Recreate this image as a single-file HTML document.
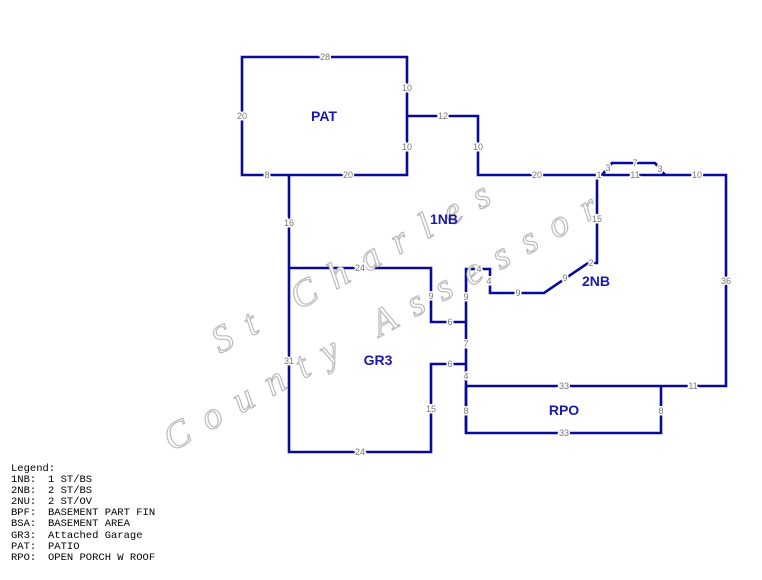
<!DOCTYPE html>
<html><head><meta charset="utf-8"><style>
html,body{margin:0;padding:0;background:#fff;}
svg{display:block}
.l{stroke:#0a0a9a;stroke-width:2.6;fill:none}
.d{font-family:"Liberation Sans",sans-serif;font-size:9px;fill:#777;text-anchor:middle;dominant-baseline:central;stroke:#fff;stroke-width:3;paint-order:stroke}
.n{font-family:"Liberation Sans",sans-serif;font-size:14px;font-weight:bold;fill:#1a1aa8;text-anchor:middle;dominant-baseline:central}
.w{font-family:"Liberation Serif",serif;font-style:italic;font-size:38px;fill:#fff;stroke:#bbb;stroke-width:1.2;letter-spacing:17px}
.g{font-family:"Liberation Mono",monospace;font-size:10.5px;fill:#000}
</style></head><body>
<svg width="762" height="580" viewBox="0 0 762 580" xmlns="http://www.w3.org/2000/svg">
<g class="l">
<path d="M242 57H407V175H242Z"/>
<path d="M407 116H478V175H726V386H466"/>
<path d="M602 175L612 163H655L665 175"/>
<path d="M466 386V433H661V386"/>
<path d="M597 175V263H588L544 293H490V269H466V433"/>
<path d="M289 175V452H431V364H466"/>
<path d="M289 268H431V322H466"/>
</g>
<g>
<text class="w" transform="translate(220,354) rotate(-29)">St Charles</text>
<text class="w" transform="translate(172,452) rotate(-29)">County Assessor</text>
</g>
<g class="d">
<text x="325" y="57">28</text><text x="242" y="116">20</text><text x="407" y="88">10</text><text x="407" y="147">10</text>
<text x="267" y="175">8</text><text x="348" y="175">20</text><text x="443" y="116">12</text><text x="478" y="147">10</text>
<text x="537" y="175">20</text><text x="599" y="175">1</text><text x="608" y="168">3</text><text x="635" y="163">7</text><text x="660" y="169">3</text><text x="635" y="175">11</text><text x="697" y="175">10</text>
<text x="726" y="281">36</text><text x="597" y="219">15</text><text x="591" y="263">2</text><text x="565" y="278">9</text><text x="518" y="293">9</text><text x="489" y="281">4</text><text x="479" y="269">4</text>
<text x="289" y="223">16</text><text x="289" y="361">31</text><text x="360" y="268">24</text><text x="431" y="296">9</text><text x="450" y="322">6</text><text x="450" y="364">6</text><text x="431" y="409">15</text><text x="360" y="452">24</text>
<text x="466" y="297">9</text><text x="466" y="344">7</text><text x="466" y="376">4</text><text x="466" y="411">8</text>
<text x="564" y="386">33</text><text x="693" y="386">11</text><text x="661" y="411">8</text><text x="564" y="433">33</text>
</g>
<g class="n">
<text x="324" y="116">PAT</text><text x="444" y="219">1NB</text><text x="596" y="281">2NB</text><text x="378" y="360">GR3</text><text x="564" y="410">RPO</text>
</g>
<g class="g">
<text x="11" y="471">Legend:</text>
<text x="11" y="482">1NB:</text><text x="48" y="482">1 ST/BS</text>
<text x="11" y="493">2NB:</text><text x="48" y="493">2 ST/BS</text>
<text x="11" y="504">2NU:</text><text x="48" y="504">2 ST/OV</text>
<text x="11" y="515">BPF:</text><text x="48" y="515">BASEMENT PART FIN</text>
<text x="11" y="526">BSA:</text><text x="48" y="526">BASEMENT AREA</text>
<text x="11" y="538">GR3:</text><text x="48" y="538">Attached Garage</text>
<text x="11" y="549">PAT:</text><text x="48" y="549">PATIO</text>
<text x="11" y="560">RPO:</text><text x="48" y="560">OPEN PORCH W ROOF</text>
</g>
</svg>
</body></html>
